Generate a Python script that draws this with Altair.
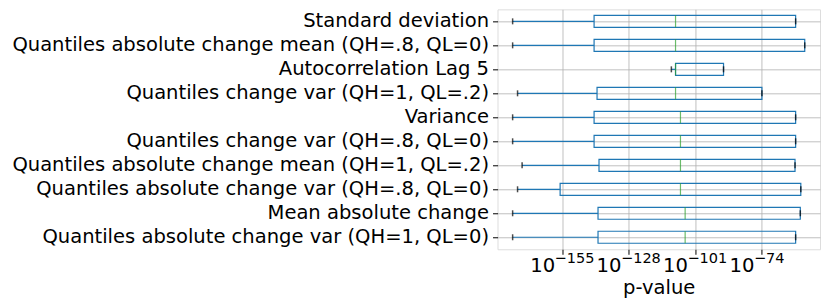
import altair as alt
import pandas as pd

# Categories top to bottom
categories = [
    "Standard deviation",
    "Quantiles absolute change mean (QH=.8, QL=0)",
    "Autocorrelation Lag 5",
    "Quantiles change var (QH=1, QL=.2)",
    "Variance",
    "Quantiles change var (QH=.8, QL=0)",
    "Quantiles absolute change mean (QH=1, QL=.2)",
    "Quantiles absolute change var (QH=.8, QL=0)",
    "Mean absolute change",
    "Quantiles absolute change var (QH=1, QL=0)",
]

# log10 of p-value statistics
log10_whisker_low = [-175.1, -175.1, -110.6, -173.1, -175.1, -175.1, -171.25, -173.1, -175.1, -175.1]
log10_q1 = [-142.0, -142.0, -108.9, -140.8, -142.0, -142.0, -140.0, -155.8, -140.4, -140.4]
log10_median = [-108.9, -108.9, -108.9, -108.9, -106.9, -106.9, -106.9, -106.9, -105.0, -105.0]
log10_q3 = [-60.1, -56.4, -89.4, -73.8, -60.1, -60.1, -60.35, -58.0, -58.2, -60.1]
log10_whisker_high = [-60.1, -56.4, -89.4, -73.8, -60.1, -60.1, -60.35, -58.0, -58.2, -60.1]

tick_exponents = [-155, -128, -101, -74]

df = pd.DataFrame({
    "cat": categories,
    "wl": [10.0 ** e for e in log10_whisker_low],
    "q1": [10.0 ** e for e in log10_q1],
    "med": [10.0 ** e for e in log10_median],
    "q3": [10.0 ** e for e in log10_q3],
    "wr": [10.0 ** e for e in log10_whisker_high],
})

ticks_df = pd.DataFrame({
    "p": [10.0 ** e for e in tick_exponents],
    "exp": ["\u2212" + str(-e) for e in tick_exponents],
})

FONT = "DejaVu Sans"
FS = 19.55
W, H = 322.6, 240

xscale = alt.Scale(type="log", domain=[10.0 ** -181.24, 10.0 ** -50.2], nice=False)
xaxis = alt.Axis(
    values=[10.0 ** e for e in tick_exponents],
    labels=False,
    title="p-value",
    titleFontSize=FS,
    titleFontWeight="normal",
    titleColor="black",
    titleFont=FONT,
    titleBaseline="alphabetic",
    titleY=44,
    tickSize=5,
    tickColor="black",
    tickWidth=1,
    grid=True,
    gridColor="#b0b0b0",
    gridWidth=0.8,
    domain=False,
)


def xenc(field):
    return alt.X(field, type="quantitative", scale=xscale, axis=xaxis)


yenc = alt.Y(
    "cat:N",
    sort=categories,
    scale=alt.Scale(paddingInner=0, paddingOuter=0),
    axis=alt.Axis(
        title=None,
        labelFontSize=FS,
        labelFont=FONT,
        labelColor="black",
        labelLimit=700,
        labelPadding=4,
        tickSize=5,
        tickColor="black",
        tickWidth=1,
        grid=True,
        gridColor="#b0b0b0",
        gridWidth=0.8,
        domain=False,
    ),
)

base = alt.Chart(df).encode(y=yenc)

whisk_lo = base.mark_rule(color="#1f77b4", strokeWidth=1.2).encode(x=xenc("wl"), x2="q1:Q")
whisk_hi = base.mark_rule(color="#1f77b4", strokeWidth=1.2).encode(x=xenc("q3"), x2="wr:Q")
box = base.mark_bar(size=12, fillOpacity=0, stroke="#1f77b4", strokeWidth=1.2).encode(
    x=xenc("q1"), x2="q3:Q"
)
median = base.mark_tick(color="#2ca02c", size=12, thickness=1.2).encode(x=xenc("med"))
cap_lo = base.mark_tick(color="black", size=6, thickness=1.5).encode(x=xenc("wl"))
cap_hi = base.mark_tick(color="black", size=6, thickness=1.5).encode(x=xenc("wr"))

tick_base = alt.Chart(ticks_df).encode(x=xenc("p"))
lab_ten = tick_base.mark_text(
    text="10", align="right", baseline="alphabetic", dx=-7.0, fontSize=19.6, font=FONT, color="black"
).encode(y=alt.value(262.4))
lab_exp = tick_base.mark_text(
    align="left", baseline="alphabetic", dx=-7.5, fontSize=14.5, font=FONT, color="black"
).encode(y=alt.value(254.0), text="exp:N")

chart = alt.layer(whisk_lo, whisk_hi, box, median, cap_lo, cap_hi, lab_ten, lab_exp).properties(
    width=W,
    height=H,
    autosize=alt.AutoSizeParams(type="none"),
    padding={"left": 489.7, "top": 1.3, "right": 2, "bottom": 50},
).configure_view(stroke="black", strokeWidth=1.1).configure(font=FONT)

chart.save("out.html", embed_options={"renderer": "svg", "actions": False})
